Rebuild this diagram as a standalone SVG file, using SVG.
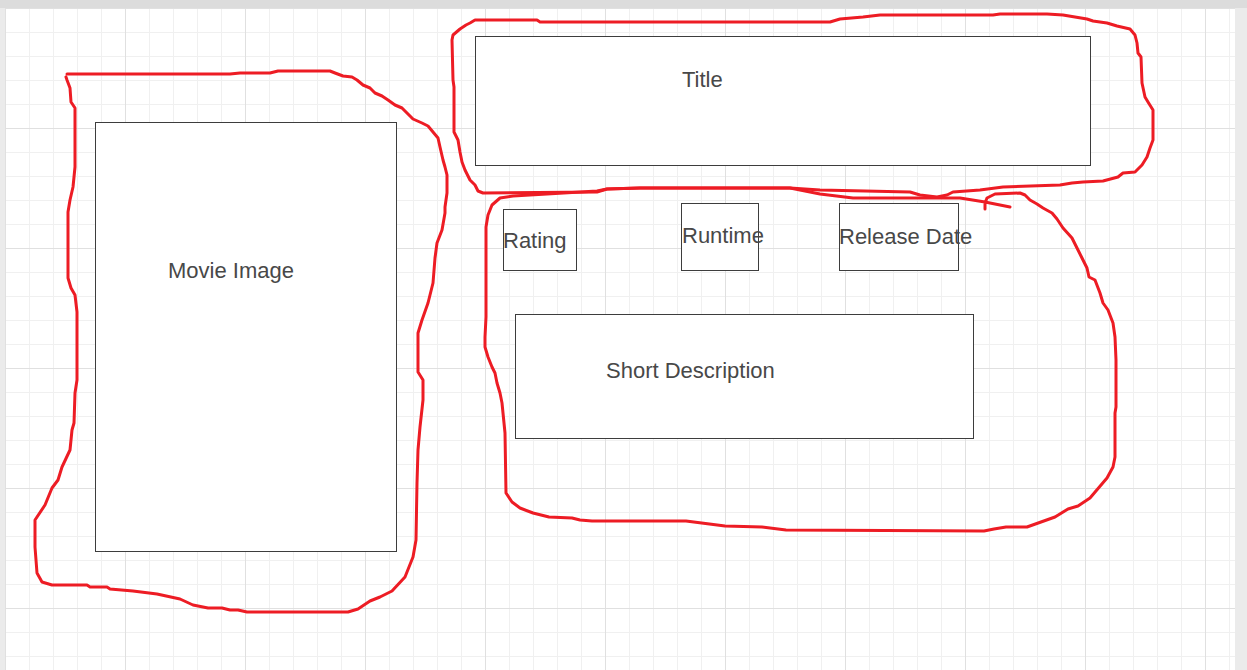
<svg xmlns="http://www.w3.org/2000/svg" width="1247" height="670" viewBox="0 0 1247 670">
<style>
.box{fill:#fff;stroke:#3d3d3d;stroke-width:1}
.lbl{font-family:"Liberation Sans",Arial,sans-serif;font-size:22px;fill:#484848}
.ink{fill:none;stroke:#ed1c24;stroke-width:3;stroke-linejoin:round;stroke-linecap:round}
</style>
<defs>
<pattern id="minor" patternUnits="userSpaceOnUse" x="5" y="8" width="24" height="24">
<path d="M0.5 0V24M0 0.5H24" stroke="#f0f0f0" stroke-width="1" fill="none"/>
</pattern>
<pattern id="major" patternUnits="userSpaceOnUse" x="5" y="8" width="120" height="120">
<path d="M0.5 0V120M0 0.5H120" stroke="#e0e0e0" stroke-width="1" fill="none"/>
</pattern>
</defs>
<g id="background">
<rect x="0" y="0" width="1247" height="670" fill="#ebebeb"/>
<rect x="5" y="8" width="1230" height="662" fill="#fff"/>
<rect x="5" y="8" width="1230" height="662" fill="url(#minor)"/>
<rect x="5" y="8" width="1230" height="662" fill="url(#major)"/>
<rect x="0" y="0" width="1247" height="8" fill="#dcdcdc"/>
</g>
<g id="movie-image">
<rect class="box" x="95.5" y="122.5" width="301" height="429"/>
<text class="lbl" x="168" y="278">Movie Image</text>
</g>
<g id="title">
<rect class="box" x="475.5" y="36.5" width="615" height="129"/>
<text class="lbl" x="682" y="87">Title</text>
</g>
<g id="rating">
<rect class="box" x="503.5" y="209.5" width="73" height="61"/>
<text class="lbl" x="503" y="248">Rating</text>
</g>
<g id="runtime">
<rect class="box" x="681.5" y="203.5" width="77" height="67"/>
<text class="lbl" x="682" y="243">Runtime</text>
</g>
<g id="release-date">
<rect class="box" x="839.5" y="203.5" width="119" height="67"/>
<text class="lbl" x="839" y="244">Release Date</text>
</g>
<g id="short-description">
<rect class="box" x="515.5" y="314.5" width="458" height="124"/>
<text class="lbl" x="606" y="378">Short Description</text>
</g>
<g id="annotations">
<path class="ink" d="M67,74 L230,74 L240,73 L270,73 L278,71 L330,71 L335,73 L343,76 L352,77 L357,80 L363,85 L370,88 L375,93 L382,96 L388,100 L395,105 L402,108 L407,113 L413,119 L422,123 L428,126 L433,132 L438,138 L440,147 L443,160 L445,167 L447,175 L447,193 L445,207 L445,213 L442,230 L437,243 L435,258 L433,283 L428,303 L422,320 L418,333 L418,372 L423,380 L423,400 L420,427 L418,450 L417,483 L416,540 L413,557 L405,577 L392,591 L380,597 L370,601 L358,609 L348,612 L247,612 L238,610 L230,610 L222,608 L208,608 L193,605 L180,599 L157,594 L133,591 L110,589 L107,587 L90,587 L87,585 L52,585 L42,582 L37,573 L35,547 L35,520 L45,505 L52,488 L58,480 L62,467 L70,450 L72,430 L74,423 L75,393 L77,380 L77,312 L75,295 L71,288 L68,278 L68,212 L70,200 L73,187 L75,167 L75,108 L71,102 L70,88 L67,80 L66,77"/>
<path class="ink" d="M475,20 L537,20 L540,22 L830,22 L840,19 L863,17 L880,15 L993,15 L1000,14 L1047,14 L1063,15 L1087,19 L1093,21 L1107,23 L1117,26 L1130,29 L1135,35 L1137,43 L1138,53 L1141,57 L1142,83 L1145,97 L1148,102 L1153,110 L1153,140 L1150,148 L1147,157 L1142,165 L1135,172 L1123,173 L1118,177 L1103,181 L1083,182 L1072,183 L1060,185 L1003,187 L980,190 L953,192 L947,195 L937,197 L920,195 L910,192 L820,190 L790,188 L640,188 L607,189 L597,192 L483,193 L478,191 L475,185 L470,180 L465,170 L462,162 L460,152 L458,140 L454,132 L454,87 L453,80 L452,40 L453,35 L460,29 L466,25 L470,23 L475,20"/>
<path class="ink" d="M1010,207 L1000,205 L985,202 L960,198 L910,198 L853,198 L820,194 L800,190 L790,188 L640,188 L607,189 L597,191 L547,194 L513,196 L500,198 L492,205 L488,215 L486,227 L486,317 L485,337 L485,347 L488,357 L492,367 L495,373 L497,383 L500,393 L502,403 L504,423 L505,433 L506,493 L512,502 L520,508 L533,513 L549,517 L572,518 L580,520 L592,521 L686,521 L725,526 L762,527 L786,530 L984,531 L994,529 L1006,527 L1027,527 L1055,517 L1068,509 L1078,506 L1090,498 L1107,478 L1113,467 L1115,457 L1115,413 L1116,407 L1116,360 L1115,337 L1113,323 L1108,310 L1103,303 L1100,293 L1095,280 L1089,277 L1087,268 L1082,258 L1077,248 L1072,238 L1063,228 L1057,219 L1052,213 L1043,208 L1037,204 L1030,200 L1025,195 L1020,193 L995,194 L987,198 L985,203 L985,209"/>
</g>
</svg>
